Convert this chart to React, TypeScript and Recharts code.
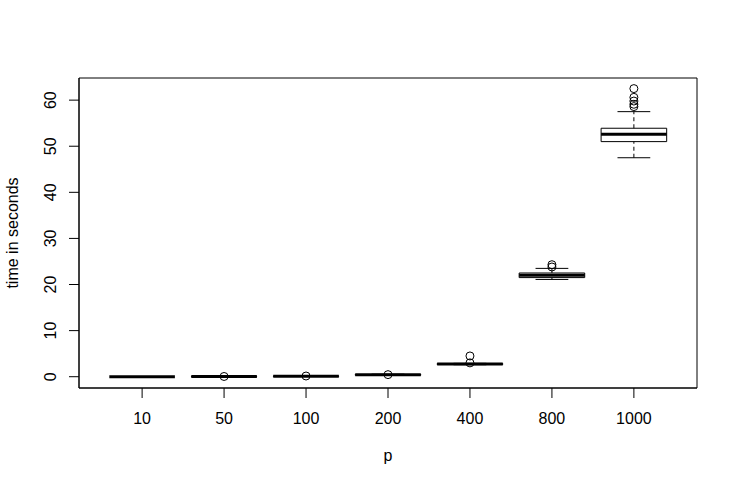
import {useEffect} from 'react';
import {ComposedChart, Label, ReferenceArea, ReferenceLine, Scatter, XAxis, YAxis} from 'recharts';

// p values (categories) and boxplot stats, seconds
const categories = ['10', '50', '100', '200', '400', '800', '1000'];
const lowerWhisker = [0.0, 0.0, 0.05, 0.3, 2.6, 21.1, 47.5];
const q1 = [0.0, 0.0, 0.08, 0.33, 2.65, 21.5, 51.0];
const median = [0.0, 0.02, 0.1, 0.4, 2.75, 22.0, 52.6];
const q3 = [0.0, 0.04, 0.12, 0.48, 2.85, 22.5, 53.9];
const upperWhisker = [0.0, 0.05, 0.15, 0.55, 2.9, 23.5, 57.5];
const outliers: number[][] = [
  [],
  [0.05],
  [0.15],
  [0.45],
  [4.5, 3.0],
  [24.3, 23.8],
  [62.5, 60.6, 59.8, 59.1, 58.6],
];
const yTicks = [0, 10, 20, 30, 40, 50, 60];

const xDomain: [number, number] = [0.23, 7.77];
const yDomain: [number, number] = [-2.45, 64.8];
const font = '"Liberation Sans", Arial, Helvetica, sans-serif';

const outlierPoints = outliers.flatMap((vals, i) => vals.map(v => ({x: i + 1, y: v})));

const OpenCircle = (props: any) => (
  <circle cx={props.cx} cy={props.cy} r={4} fill="none" stroke="#000" strokeWidth={1} />
);

export default function App() {
  useEffect(() => {
    document.body.style.margin = '0';
  }, []);

  return (
    <div style={{width: 738, height: 487, background: '#fff', fontFamily: font}}>
      <ComposedChart width={738} height={487} margin={{top: 78, right: 41, bottom: 0, left: 0}}>
        <XAxis
          type="number"
          dataKey="x"
          domain={xDomain}
          ticks={[1, 2, 3, 4, 5, 6, 7]}
          tickFormatter={(v: number) => categories[v - 1]}
          allowDataOverflow
          height={99}
          tickSize={10}
          tickMargin={15}
          axisLine={{stroke: '#000'}}
          tickLine={{stroke: '#000'}}
          tick={{fill: '#000', fontSize: 16, fontFamily: font}}
        >
          <Label
            content={() => (
              <text x={388} y={461} textAnchor="middle" fontSize={16} fontFamily={font} fill="#000">p</text>
            )}
          />
        </XAxis>
        <YAxis
          type="number"
          domain={yDomain}
          ticks={yTicks}
          allowDataOverflow
          width={79}
          tickSize={10}
          axisLine={{stroke: '#000'}}
          tickLine={{stroke: '#000'}}
          tick={(props: any) => {
            const tx = props.x - 11;
            return (
              <text
                x={tx}
                y={props.y}
                transform={`rotate(-90 ${tx} ${props.y})`}
                textAnchor="middle"
                fontSize={16}
                fontFamily={font}
                fill="#000"
              >
                {props.payload.value}
              </text>
            );
          }}
        >
          <Label
            content={() => (
              <text
                x={18}
                y={233}
                transform="rotate(-90 18 233)"
                textAnchor="middle"
                fontSize={16}
                fontFamily={font}
                fill="#000"
              >
                time in seconds
              </text>
            )}
          />
        </YAxis>

        {/* plot frame */}
        <ReferenceArea
          x1={xDomain[0]}
          x2={xDomain[1]}
          y1={yDomain[0]}
          y2={yDomain[1]}
          fill="none"
          stroke="#000"
          strokeWidth={1}
          ifOverflow="visible"
        />

        {categories.map((c, i) => {
          const x = i + 1;
          return [
            <ReferenceLine
              key={`wl-${c}`}
              segment={[{x, y: lowerWhisker[i]}, {x, y: q1[i]}]}
              stroke="#000"
              strokeDasharray="4 3"
            />,
            <ReferenceLine
              key={`wh-${c}`}
              segment={[{x, y: q3[i]}, {x, y: upperWhisker[i]}]}
              stroke="#000"
              strokeDasharray="4 3"
            />,
            <ReferenceLine
              key={`sl-${c}`}
              segment={[{x: x - 0.2, y: lowerWhisker[i]}, {x: x + 0.2, y: lowerWhisker[i]}]}
              stroke="#000"
            />,
            <ReferenceLine
              key={`sh-${c}`}
              segment={[{x: x - 0.2, y: upperWhisker[i]}, {x: x + 0.2, y: upperWhisker[i]}]}
              stroke="#000"
            />,
            <ReferenceArea
              key={`box-${c}`}
              x1={x - 0.4}
              x2={x + 0.4}
              y1={q1[i]}
              y2={q3[i]}
              fill="#fff"
              fillOpacity={1}
              stroke="#000"
              strokeWidth={1}
            />,
            <ReferenceLine
              key={`med-${c}`}
              segment={[{x: x - 0.4, y: median[i]}, {x: x + 0.4, y: median[i]}]}
              stroke="#000"
              strokeWidth={3}
            />,
          ];
        })}

        <Scatter data={outlierPoints} dataKey="y" shape={OpenCircle} isAnimationActive={false} />
      </ComposedChart>
    </div>
  );
}
